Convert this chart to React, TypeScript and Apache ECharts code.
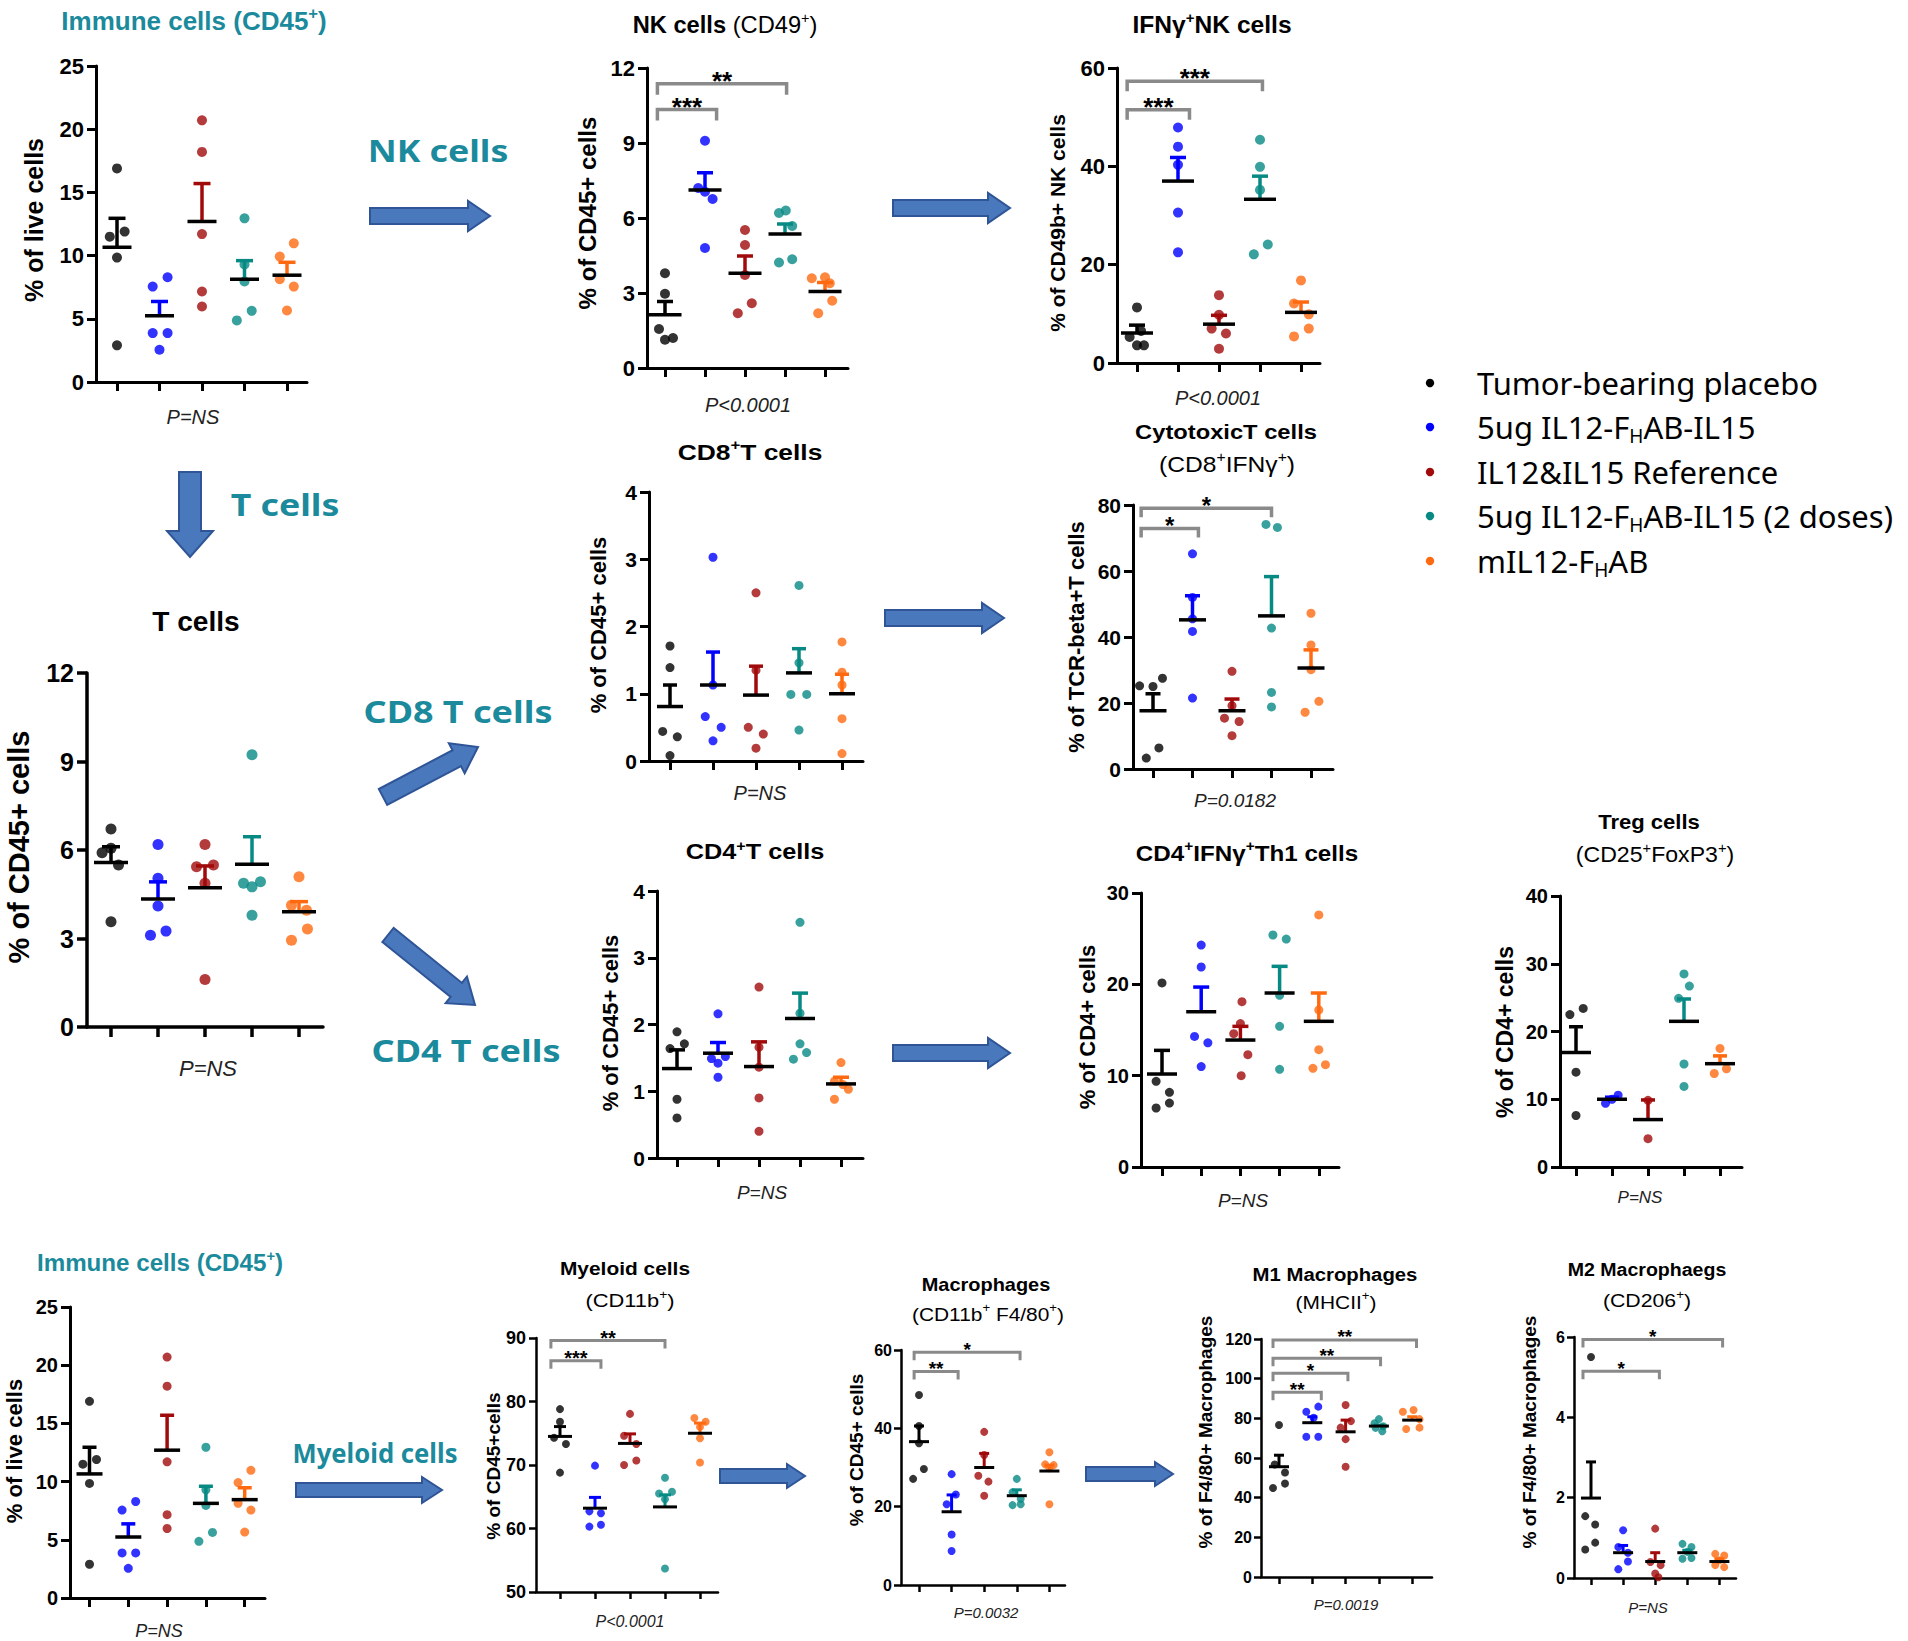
import React, { useEffect, useRef } from "react";
import * as echarts from "echarts";

const FONT = "'Liberation Sans', Arial, sans-serif";
const LEG_FONT = "'Noto Sans', 'Open Sans', sans-serif";
const TEAL_TEXT = "#1b8a9c";

const groupColors = ["#000000", "#0000ff", "#a10a0a", "#078a84", "#ff6a10"];

// ---------- data ----------
const immuneValues = [[16.9, 11.5, 11.9, 9.84, 2.9], [7.55, 8.29, 3.87, 3.87, 2.55], [20.7, 18.2, 11.7, 7.16, 5.97], [12.95, 7.95, 4.87, 5.63, 9.3], [10.97, 9.92, 8.13, 7.55, 5.66]];
const immuneJitter = [[0, -0.17, 0.18, 0, 0], [-0.16, 0.19, -0.16, 0.19, 0], [0, 0, 0, 0, 0], [0, 0, -0.18, 0.17, 0], [0.16, -0.17, -0.17, 0.16, 0]];
const immuneMean = [10.66, 5.24, 12.7, 8.13, 8.45];
const immuneSemTop = [12.95, 6.37, 15.7, 9.6, 9.47];

const nkValues = [[3.79, 2.97, 1.56, 1.13, 1.2], [9.09, 7.2, 7.05, 6.76, 4.8], [5.52, 4.92, 3.72, 2.19, 2.59], [6.2, 6.3, 5.68, 4.22, 4.35], [3.59, 3.63, 3.39, 2.69, 2.19]];
const nkJitter = [[0, 0, -0.15, 0, 0.2], [0, -0.17, 0, 0.19, 0], [0, 0, 0, -0.18, 0.17], [-0.15, 0.02, 0.18, -0.15, 0.18], [-0.33, 0, 0.12, 0.18, -0.17]];
const nkMean = [2.13, 7.12, 3.79, 5.36, 3.06];
const nkSemTop = [2.66, 7.81, 4.48, 5.76, 3.42];
const nkBrackets: [number, number, number, string][] = [[-0.19, 1.29, 10.34, "***"], [-0.19, 3.04, 11.37, "**"]];

const ifnNkValues = [[11.3, 6.5, 5.3, 3.6, 3.6], [47.9, 44.0, 40.3, 30.6, 22.5], [13.8, 9.8, 7.0, 6.0, 2.9], [45.4, 39.9, 35.2, 22.1, 24.1], [16.8, 12.1, 9.9, 7.0, 5.4]];
const ifnNkJitter = [[0, 0.1, -0.18, 0, 0.17], [0, 0, 0, 0, 0], [0, 0, -0.18, 0.17, 0], [0, 0, 0, -0.15, 0.19], [0, -0.17, 0.19, 0.19, -0.17]];
const ifnNkMean = [6.1, 37.0, 7.9, 33.3, 10.3];
const ifnNkSemTop = [7.7, 41.8, 9.7, 38.0, 12.4];
const ifnNkBrackets: [number, number, number, string][] = [[-0.24, 1.28, 51.5, "***"], [-0.24, 3.06, 57.3, "***"]];

const tValues = [[6.71, 6.06, 5.91, 5.49, 3.57], [6.19, 5.04, 4.1, 3.11, 3.25], [6.19, 5.43, 5.49, 4.87, 1.61], [9.23, 4.87, 4.92, 4.75, 3.79], [5.09, 4.13, 3.96, 3.32, 2.94]];
const tJitter = [[0, 0, -0.19, 0.16, 0], [0, 0, 0, -0.16, 0.17], [0, -0.18, 0.18, 0, 0], [0, -0.18, 0.18, 0, 0], [0, -0.16, 0.16, 0.18, -0.16]];
const tMean = [5.58, 4.34, 4.72, 5.52, 3.91];
const tSemTop = [6.11, 4.92, 5.46, 6.45, 4.25];

const cd8Values = [[1.71, 1.39, 0.44, 0.36, 0.08], [3.03, 1.13, 0.66, 0.5, 0.3], [2.5, 1.35, 0.5, 0.4, 0.19], [2.61, 1.46, 0.99, 0.99, 0.46], [1.77, 1.32, 1.13, 0.63, 0.11]];
const cd8Jitter = [[0, 0, -0.17, 0.17, 0], [0, 0, -0.18, 0.19, 0], [0, 0, -0.18, 0.17, 0], [0, 0, -0.19, 0.18, 0], [0, 0, 0, 0, 0]];
const cd8Mean = [0.81, 1.13, 0.98, 1.31, 1.0];
const cd8SemTop = [1.13, 1.62, 1.41, 1.67, 1.29];

const ctlValues = [[25.2, 25.0, 27.5, 3.3, 6.4], [65.2, 52, 45.5, 41.7, 21.5], [29.6, 19.2, 15.4, 14.4, 10.1], [74.1, 73.2, 42.7, 23.2, 18.8], [47.2, 37.6, 30.1, 17.2, 20.5]];
const ctlJitter = [[-0.34, 0, 0.24, -0.17, 0.15], [0, 0, 0, 0, 0], [0, 0, -0.19, 0.18, 0], [-0.14, 0.15, 0, 0, 0], [0, 0, 0, -0.15, 0.2]];
const ctlMean = [17.65, 45.2, 17.65, 46.4, 30.6];
const ctlSemTop = [22.8, 52.5, 21.2, 58.3, 36.1];
const ctlBrackets: [number, number, number, string][] = [[-0.3, 1.15, 72.9, "*"], [-0.3, 3.0, 79.0, "*"]];

const cd4Values = [[1.89, 1.64, 1.71, 0.88, 0.6], [2.16, 1.49, 1.52, 1.42, 1.21], [2.56, 1.66, 1.36, 0.9, 0.4], [3.53, 2.17, 1.71, 1.48, 1.58], [1.43, 1.15, 1.1, 1.03, 0.88]];
const cd4Jitter = [[0, -0.17, 0.18, 0, 0], [0, -0.16, 0.18, 0, 0], [0, 0, 0, 0, 0], [0, 0, 0, -0.16, 0.16], [0, -0.16, 0.05, 0.18, -0.16]];
const cd4Mean = [1.34, 1.57, 1.37, 2.09, 1.11];
const cd4SemTop = [1.62, 1.73, 1.74, 2.47, 1.21];

const th1Values = [[20.15, 9.38, 8.18, 7.0, 6.46], [24.3, 21.9, 14.3, 13.6, 11.0], [18.1, 15.7, 14.6, 12.3, 10.0], [25.4, 24.96, 18.8, 15.4, 10.7], [27.6, 17.2, 12.85, 10.8, 11.2]];
const th1Jitter = [[0, -0.15, 0.19, 0.19, -0.15], [0, 0, -0.17, 0.17, 0], [0.04, 0, -0.17, 0.19, 0.02], [-0.17, 0.17, 0, 0, 0], [0, 0, 0, -0.15, 0.17]];
const th1Mean = [10.18, 17.0, 13.9, 19.05, 15.95];
const th1SemTop = [12.77, 19.7, 15.4, 21.97, 19.05];

const tregValues = [[23.4, 22.5, 14.0, 7.6], [9.4, 10.0, 10.6], [9.84, 4.18], [28.5, 26.7, 24.9, 15.2, 11.9], [17.5, 13.8, 14.5]];
const tregJitter = [[0.2, -0.17, 0, 0], [-0.18, 0, 0.17], [0, 0], [0, 0.15, -0.15, 0, 0], [0, -0.16, 0.18]];
const tregMean = [16.9, 10.0, 7.0, 21.5, 15.25];
const tregSemTop = [20.7, 10.3, 9.9, 24.8, 16.4];

const myeValues = [[78.8, 76.8, 74.3, 73.3, 68.8], [69.9, 62.7, 62.4, 60.3, 60.6], [78.05, 74.6, 73.3, 70.0, 70.7], [68.0, 65.5, 65.8, 64.6, 53.7], [77.4, 76.8, 76.0, 74.2, 70.4]];
const myeJitter = [[0, 0, -0.17, 0.17, 0], [0, -0.16, 0.17, -0.16, 0.17], [0, -0.17, 0.18, -0.17, 0.18], [0, -0.17, 0.2, 0, 0], [-0.16, 0.16, 0, 0, 0]];
const myeMean = [74.5, 63.2, 73.4, 63.4, 75.0];
const myeSemTop = [76.05, 64.9, 74.9, 65.3, 76.6];
const myeBrackets: [number, number, number, string][] = [[-0.26, 1.17, 86.4, "***"], [-0.26, 3.0, 89.6, "**"]];

const macValues = [[48.5, 40.6, 36.2, 29.6, 27.1], [28.3, 23.1, 20.6, 12.9, 8.7], [39.1, 33.2, 27.9, 26.4, 22.8], [27.1, 23.7, 22.0, 20.4, 20.6], [33.9, 30.8, 30.6, 29.8, 20.6]];
const macJitter = [[0, 0, 0, 0.15, -0.18], [0, 0.13, -0.15, 0, 0], [0, 0, -0.18, 0.13, 0], [0, -0.13, 0.12, -0.13, 0.12], [0, -0.13, 0.13, 0, 0]];
const macMean = [36.6, 18.7, 30.0, 22.8, 29.1];
const macSemTop = [40.6, 23.0, 33.6, 24.3, 30.6];
const macBrackets: [number, number, number, string][] = [[-0.15, 1.2, 54.5, "**"], [-0.15, 3.1, 59.4, "*"]];

const m1Values = [[76.6, 56.7, 52.7, 47.1, 44.9], [85.9, 83.3, 80.3, 70.7, 70.7], [86.7, 78.6, 75.3, 69.5, 55.6], [79.6, 77.5, 76.0, 75.2, 73.5], [83.3, 84.2, 79.6, 74.6, 75.3]];
const m1Jitter = [[0, -0.13, 0.18, 0.18, -0.18], [0.18, -0.18, 0.04, -0.18, 0.18], [0, 0.16, -0.15, 0, 0], [0, -0.13, 0.13, -0.1, 0.1], [-0.28, 0.04, 0.22, -0.18, 0.22]];
const m1Mean = [55.6, 77.8, 73.2, 76.1, 79.1];
const m1SemTop = [61.4, 80.8, 79.1, 76.6, 80.8];
const m1Brackets: [number, number, number, string][] = [[-0.18, 1.27, 93.1, "**"], [-0.18, 2.07, 102.7, "*"], [-0.18, 3.05, 110.3, "**"], [-0.18, 4.13, 119.5, "**"]];

const m2Values = [[5.5, 1.54, 1.33, 0.88, 0.71], [1.19, 0.77, 0.63, 0.41, 0.22], [1.23, 0.4, 0.32, 0.11, 0.02], [0.85, 0.77, 0.65, 0.48, 0.5], [0.6, 0.56, 0.44, 0.32, 0.27]];
const m2Jitter = [[0, -0.18, 0.13, 0.13, -0.18], [0, -0.15, 0.15, 0.15, -0.15], [0, -0.15, 0.17, 0, 0.1], [-0.15, 0.13, 0, -0.15, 0.13], [-0.13, 0.15, 0, -0.13, 0.15]];
const m2Mean = [1.99, 0.63, 0.41, 0.63, 0.41];
const m2SemTop = [2.89, 0.81, 0.63, 0.69, 0.48];
const m2Brackets: [number, number, number, string][] = [[-0.25, 2.13, 5.15, "*"], [-0.25, 4.1, 5.94, "*"]];

const legendLabels: [string, string][][] = [
  [["Tumor-bearing placebo", "n"]],
  [["5ug IL12-F", "n"], ["H", "sub"], ["AB-IL15", "n"]],
  [["IL12&IL15 Reference", "n"]],
  [["5ug IL12-F", "n"], ["H", "sub"], ["AB-IL15 (2 doses)", "n"]],
  [["mIL12-F", "n"], ["H", "sub"], ["AB", "n"]],
];

// ---------- layout (positions / sizes / styles) ----------
type Part = [string, string];
type TitleSpec = { parts: Part[]; x: number; y: number; size: number; color?: string; sx?: number };
type Layout = {
  ax: number; top: number; bot: number; t0: number; step: number; end: number;
  yMin: number; yMax: number; yStep: number; lab: number; lm: number; dot: number; lw: number;
  mh: number; ch: number; bw: number; tl: number; star: number; drop: number;
  yName: string; nameX: number; nameY: number; nameSize: number;
  p: string; pX: number; pY: number; pSize: number; titles: TitleSpec[];
};
type Panel = { values: number[][]; jitter: number[][]; mean: number[]; semTop: number[]; brackets: [number, number, number, string][]; L: Layout };

const base = { lm: 12, lw: 3, bw: 3.5, tl: 9, star: 26, drop: 10 };

const panels: Panel[] = [
  { values: immuneValues, jitter: immuneJitter, mean: immuneMean, semTop: immuneSemTop, brackets: [],
    L: { ...base, ax: 96, top: 66, bot: 382, t0: 117, step: 42.5, end: 307, yMin: 0, yMax: 25, yStep: 5, lab: 22, dot: 10, mh: 14.5, ch: 8.5,
      yName: "% of live cells", nameX: 34, nameY: 220, nameSize: 25, p: "P=NS", pX: 193, pY: 417, pSize: 20,
      titles: [{ parts: [["Immune cells (CD45", "b"], ["+", "bs"], [")", "b"]], x: 194, y: 21, size: 25, color: TEAL_TEXT, sx: 1.04 }] } },
  { values: nkValues, jitter: nkJitter, mean: nkMean, semTop: nkSemTop, brackets: nkBrackets,
    L: { ...base, ax: 647, top: 68, bot: 368, t0: 665, step: 40, end: 848, yMin: 0, yMax: 12, yStep: 3, lab: 22, dot: 10, mh: 16.5, ch: 8, drop: 11,
      yName: "% of CD45+ cells", nameX: 587, nameY: 213, nameSize: 24, p: "P<0.0001", pX: 748, pY: 405, pSize: 20,
      titles: [{ parts: [["NK cells ", "b"], ["(CD49", "r"], ["+", "rs"], [")", "r"]], x: 725, y: 25, size: 23, sx: 1.03 }] } },
  { values: ifnNkValues, jitter: ifnNkJitter, mean: ifnNkMean, semTop: ifnNkSemTop, brackets: ifnNkBrackets,
    L: { ...base, ax: 1117, top: 68, bot: 363, t0: 1137, step: 41, end: 1320, yMin: 0, yMax: 60, yStep: 20, lab: 22, dot: 10, mh: 16, ch: 8,
      yName: "% of CD49b+ NK cells", nameX: 1057, nameY: 223, nameSize: 21, p: "P<0.0001", pX: 1218, pY: 398, pSize: 20,
      titles: [{ parts: [["IFNγ", "b"], ["+", "bs"], ["NK cells", "b"]], x: 1212, y: 25, size: 23, sx: 1.07 }] } },
  { values: tValues, jitter: tJitter, mean: tMean, semTop: tSemTop, brackets: [],
    L: { ...base, ax: 87, top: 673, bot: 1027, t0: 111, step: 47, end: 323, yMin: 0, yMax: 12, yStep: 3, lab: 25, lm: 13, dot: 11, lw: 3.5, mh: 17, ch: 9, tl: 10,
      yName: "% of CD45+ cells", nameX: 19, nameY: 847, nameSize: 29, p: "P=NS", pX: 208, pY: 1068, pSize: 22,
      titles: [{ parts: [["T cells", "b"]], x: 196, y: 622, size: 27, sx: 1.04 }] } },
  { values: cd8Values, jitter: cd8Jitter, mean: cd8Mean, semTop: cd8SemTop, brackets: [],
    L: { ...base, ax: 649, top: 492, bot: 761, t0: 670, step: 43, end: 863, yMin: 0, yMax: 4, yStep: 1, lab: 21, dot: 9, mh: 13, ch: 7,
      yName: "% of CD45+ cells", nameX: 598, nameY: 625, nameSize: 22, p: "P=NS", pX: 760, pY: 793, pSize: 20,
      titles: [{ parts: [["CD8", "b"], ["+", "bs"], ["T cells", "b"]], x: 750, y: 452, size: 22, sx: 1.2 }] } },
  { values: ctlValues, jitter: ctlJitter, mean: ctlMean, semTop: ctlSemTop, brackets: ctlBrackets,
    L: { ...base, ax: 1133, top: 505, bot: 769, t0: 1153, step: 39.5, end: 1333, yMin: 0, yMax: 80, yStep: 20, lab: 21, dot: 9, mh: 13.5, ch: 7.5, star: 24, drop: 9,
      yName: "% of TCR-beta+T cells", nameX: 1076, nameY: 637, nameSize: 22, p: "P=0.0182", pX: 1235, pY: 800, pSize: 19,
      titles: [
        { parts: [["CytotoxicT cells", "b"]], x: 1226, y: 432, size: 21, sx: 1.13 },
        { parts: [["(CD8", "r"], ["+", "rs"], ["IFNγ", "r"], ["+", "rs"], [")", "r"]], x: 1227, y: 464, size: 22, sx: 1.12 },
      ] } },
  { values: cd4Values, jitter: cd4Jitter, mean: cd4Mean, semTop: cd4SemTop, brackets: [],
    L: { ...base, ax: 657, top: 891, bot: 1158, t0: 677, step: 41, end: 863, yMin: 0, yMax: 4, yStep: 1, lab: 21, dot: 9, mh: 15, ch: 8,
      yName: "% of CD45+ cells", nameX: 610, nameY: 1023, nameSize: 22, p: "P=NS", pX: 762, pY: 1192, pSize: 19,
      titles: [{ parts: [["CD4", "b"], ["+", "bs"], ["T cells", "b"]], x: 755, y: 852, size: 22, sx: 1.15 }] } },
  { values: th1Values, jitter: th1Jitter, mean: th1Mean, semTop: th1SemTop, brackets: [],
    L: { ...base, ax: 1141, top: 893, bot: 1167, t0: 1162, step: 39.2, end: 1339, yMin: 0, yMax: 30, yStep: 10, lab: 20, dot: 9, mh: 15, ch: 8,
      yName: "% of CD4+ cells", nameX: 1087, nameY: 1027, nameSize: 22, p: "P=NS", pX: 1243, pY: 1200, pSize: 19,
      titles: [{ parts: [["CD4", "b"], ["+", "bs"], ["IFNγ", "b"], ["+", "bs"], ["Th1 cells", "b"]], x: 1247, y: 853, size: 22, sx: 1.1 }] } },
  { values: tregValues, jitter: tregJitter, mean: tregMean, semTop: tregSemTop, brackets: [],
    L: { ...base, ax: 1560, top: 896, bot: 1167, t0: 1576, step: 36, end: 1742, yMin: 0, yMax: 40, yStep: 10, lab: 20, dot: 9, mh: 15, ch: 7,
      yName: "% of CD4+ cells", nameX: 1505, nameY: 1032, nameSize: 23, p: "P=NS", pX: 1640, pY: 1197, pSize: 17,
      titles: [
        { parts: [["Treg cells", "b"]], x: 1649, y: 822, size: 21, sx: 1.05 },
        { parts: [["(CD25", "r"], ["+", "rs"], ["FoxP3", "r"], ["+", "rs"], [")", "r"]], x: 1655, y: 855, size: 22, sx: 1.05 },
      ] } },
  { values: immuneValues, jitter: immuneJitter, mean: immuneMean, semTop: immuneSemTop, brackets: [],
    L: { ...base, ax: 70, top: 1307, bot: 1598, t0: 89.5, step: 38.8, end: 265, yMin: 0, yMax: 25, yStep: 5, lab: 20, dot: 9, mh: 13, ch: 7,
      yName: "% of live cells", nameX: 14, nameY: 1451, nameSize: 22, p: "P=NS", pX: 159, pY: 1631, pSize: 18,
      titles: [{ parts: [["Immune cells (CD45", "b"], ["+", "bs"], [")", "b"]], x: 160, y: 1263, size: 23, color: TEAL_TEXT, sx: 1.05 }] } },
  { values: myeValues, jitter: myeJitter, mean: myeMean, semTop: myeSemTop, brackets: myeBrackets,
    L: { ...base, ax: 536, top: 1338, bot: 1592, t0: 560, step: 35, end: 718, yMin: 50, yMax: 90, yStep: 10, lab: 18, lm: 10, dot: 8, lw: 2.5, bw: 3, mh: 12, ch: 6, tl: 7, star: 20, drop: 8,
      yName: "% of CD45+cells", nameX: 493, nameY: 1466, nameSize: 19, p: "P<0.0001", pX: 630, pY: 1621, pSize: 16,
      titles: [
        { parts: [["Myeloid cells", "b"]], x: 625, y: 1268, size: 19, sx: 1.1 },
        { parts: [["(CD11b", "r"], ["+", "rs"], [")", "r"]], x: 630, y: 1300, size: 19, sx: 1.15 },
      ] } },
  { values: macValues, jitter: macJitter, mean: macMean, semTop: macSemTop, brackets: macBrackets,
    L: { ...base, ax: 901, top: 1350, bot: 1585, t0: 919, step: 32.6, end: 1065, yMin: 0, yMax: 60, yStep: 20, lab: 16, lm: 9, dot: 8, lw: 2.5, bw: 3, mh: 10, ch: 5, tl: 7, star: 19, drop: 8,
      yName: "% of CD45+ cells", nameX: 856, nameY: 1450, nameSize: 19, p: "P=0.0032", pX: 986, pY: 1612, pSize: 15,
      titles: [
        { parts: [["Macrophages", "b"]], x: 986, y: 1284, size: 19, sx: 1.05 },
        { parts: [["(CD11b", "r"], ["+", "rs"], [" F4/80", "r"], ["+", "rs"], [")", "r"]], x: 988, y: 1314, size: 19, sx: 1.1 },
      ] } },
  { values: m1Values, jitter: m1Jitter, mean: m1Mean, semTop: m1SemTop, brackets: m1Brackets,
    L: { ...base, ax: 1261, top: 1339, bot: 1577, t0: 1279, step: 33.3, end: 1432, yMin: 0, yMax: 120, yStep: 20, lab: 16, lm: 9, dot: 8, lw: 2.5, bw: 3, mh: 10, ch: 5, tl: 7, star: 19, drop: 8,
      yName: "% of F4/80+ Macrophages", nameX: 1205, nameY: 1432, nameSize: 19, p: "P=0.0019", pX: 1346, pY: 1604, pSize: 15,
      titles: [
        { parts: [["M1 Macrophages", "b"]], x: 1335, y: 1274, size: 19, sx: 1.07 },
        { parts: [["(MHCII", "r"], ["+", "rs"], [")", "r"]], x: 1336, y: 1302, size: 19, sx: 1.1 },
      ] } },
  { values: m2Values, jitter: m2Jitter, mean: m2Mean, semTop: m2SemTop, brackets: m2Brackets,
    L: { ...base, ax: 1574, top: 1337, bot: 1578, t0: 1591, step: 32.1, end: 1736, yMin: 0, yMax: 6, yStep: 2, lab: 16, lm: 9, dot: 8, lw: 2.5, bw: 3, mh: 10, ch: 5, tl: 7, star: 19, drop: 8,
      yName: "% of F4/80+ Macrophages", nameX: 1529, nameY: 1432, nameSize: 19, p: "P=NS", pX: 1648, pY: 1607, pSize: 15,
      titles: [
        { parts: [["M2 Macrophaegs", "b"]], x: 1647, y: 1270, size: 19, sx: 1.03 },
        { parts: [["(CD206", "r"], ["+", "rs"], [")", "r"]], x: 1647, y: 1300, size: 19, sx: 1.12 },
      ] } },
];

// arrows: [x1, y1, x2, y2, shaftHalf, headHalf, headLen]
const arrows: number[][] = [
  [370, 216, 490, 216, 8, 15, 22],
  [893, 208, 1010, 208, 8, 15, 22],
  [190, 472, 190, 557, 11, 23, 26],
  [885, 618, 1004, 618, 8, 15, 22],
  [383, 797, 478, 747, 9, 17, 24],
  [388, 935, 475, 1005, 9, 17, 24],
  [893, 1053, 1010, 1053, 8, 15, 22],
  [296, 1490, 442, 1490, 7, 13, 20],
  [720, 1476, 805, 1476, 7, 12, 18],
  [1086, 1474, 1173, 1474, 7, 12, 18],
];
const arrowLabels: TitleSpec[] = [
  { parts: [["NK cells", "t"]], x: 438, y: 150, size: 31, sx: 1.15 },
  { parts: [["T cells", "t"]], x: 285, y: 504, size: 31, sx: 1.15 },
  { parts: [["CD8 T cells", "t"]], x: 458, y: 711, size: 31, sx: 1.16 },
  { parts: [["CD4 T cells", "t"]], x: 466, y: 1050, size: 31, sx: 1.16 },
  { parts: [["Myeloid cells", "t"]], x: 375, y: 1453, size: 27, sx: 0.95 },
];

// ---------- helpers ----------
function richFor(size: number, color: string) {
  const sup = Math.round(size * 0.62);
  const up = Math.round(size * 0.6);
  return {
    b: { font: `bold ${size}px ${FONT}`, fill: color, color },
    r: { font: `normal ${size}px ${FONT}`, fill: color, color },
    bs: { font: `bold ${sup}px ${FONT}`, fill: color, color, padding: [0, 0, up, 0] },
    rs: { font: `normal ${sup}px ${FONT}`, fill: color, color, padding: [0, 0, up, 0] },
    t: { font: `bold ${size}px ${LEG_FONT}`, fill: TEAL_TEXT, color: TEAL_TEXT },
    n: { font: `normal ${size}px ${LEG_FONT}`, fill: "#000", color: "#000" },
    sub: { font: `normal ${Math.round(size * 0.6)}px ${LEG_FONT}`, fill: "#000", color: "#000", padding: [Math.round(size * 0.55), 0, 0, 0] },
  };
}

function richTextEl(t: TitleSpec, align = "center") {
  return {
    type: "text",
    x: t.x,
    y: t.y,
    scaleX: t.sx || 1,
    silent: true,
    style: {
      text: t.parts.map(([s, k]) => `{${k}|${s}}`).join(""),
      rich: richFor(t.size, t.color || "#000"),
      align, verticalAlign: "middle", textAlign: align, textVerticalAlign: "middle",
    },
  };
}

function arrowPoints(a: number[]) {
  const [x1, y1, x2, y2, sh, hh, hl] = a;
  const dx = x2 - x1, dy = y2 - y1, len = Math.hypot(dx, dy);
  const ux = dx / len, uy = dy / len, nx = -uy, ny = ux;
  const bx = x2 - ux * hl, by = y2 - uy * hl;
  return [
    [x1 + nx * sh, y1 + ny * sh], [bx + nx * sh, by + ny * sh], [bx + nx * hh, by + ny * hh],
    [x2, y2], [bx - nx * hh, by - ny * hh], [bx - nx * sh, by - ny * sh], [x1 - nx * sh, y1 - ny * sh],
  ];
}

function buildOption() {
  const grid: any[] = [], xAxis: any[] = [], yAxis: any[] = [], series: any[] = [], graphic: any[] = [];
  panels.forEach((p, i) => {
    const L = p.L;
    grid.push({ left: L.ax, top: L.top, width: L.end - L.ax, height: L.bot - L.top, containLabel: false });
    xAxis.push({
      gridIndex: i, type: "value", min: -(L.t0 - L.ax) / L.step, max: (L.end - L.t0) / L.step,
      axisLine: { show: true, onZero: false, lineStyle: { color: "#000", width: L.lw } },
      axisTick: { show: true, customValues: [0, 1, 2, 3, 4], length: L.tl, inside: false, lineStyle: { color: "#000", width: L.lw } },
      axisLabel: { show: false }, splitLine: { show: false },
    });
    yAxis.push({
      gridIndex: i, type: "value", min: L.yMin, max: L.yMax, interval: L.yStep,
      axisLine: { show: true, onZero: false, lineStyle: { color: "#000", width: L.lw } },
      axisTick: { show: true, length: L.tl, inside: false, lineStyle: { color: "#000", width: L.lw } },
      axisLabel: { show: true, color: "#000", fontSize: L.lab, fontWeight: "bold", fontFamily: FONT, margin: L.lm },
      splitLine: { show: false },
    });
    series.push({
      type: "scatter", xAxisIndex: i, yAxisIndex: i, symbol: "circle", symbolSize: L.dot, silent: true, z: 2,
      data: p.values.flatMap((arr, g) => arr.map((v, k) => ({ value: [g + p.jitter[g][k], v], itemStyle: { color: groupColors[g] } }))),
    });
    series.push({
      type: "custom", xAxisIndex: i, yAxisIndex: i, silent: true, z: 3, clip: false,
      encode: { x: 0, y: [1, 2] },
      data: p.mean.map((m, g) => [g, m, p.semTop[g]]),
      renderItem: (params: any, api: any) => {
        const g = api.value(0);
        const pm = api.coord([g, api.value(1)]);
        const pt = api.coord([g, api.value(2)]);
        const col = groupColors[g];
        return {
          type: "group",
          children: [
            { type: "line", shape: { x1: pm[0], y1: pm[1], x2: pt[0], y2: pt[1] }, style: { stroke: col, lineWidth: L.bw } },
            { type: "line", shape: { x1: pt[0] - L.ch, y1: pt[1], x2: pt[0] + L.ch, y2: pt[1] }, style: { stroke: col, lineWidth: L.bw } },
            { type: "line", shape: { x1: pm[0] - L.mh, y1: pm[1], x2: pm[0] + L.mh, y2: pm[1] }, style: { stroke: "#000", lineWidth: L.bw } },
          ],
        };
      },
    });
    if (p.brackets.length) {
      series.push({
        type: "custom", xAxisIndex: i, yAxisIndex: i, silent: true, z: 4, clip: false,
        encode: { x: [0, 1], y: 2 },
        data: p.brackets.map((b) => [b[0], b[1], b[2]]),
        renderItem: (params: any, api: any) => {
          const p1 = api.coord([api.value(0), api.value(2)]);
          const p2 = api.coord([api.value(1), api.value(2)]);
          const label = p.brackets[params.dataIndex][3];
          return {
            type: "group",
            children: [
              { type: "polyline", shape: { points: [[p1[0], p1[1] + L.drop], [p1[0], p1[1]], [p2[0], p2[1]], [p2[0], p2[1] + L.drop]] },
                style: { stroke: "#8a8a8a", lineWidth: L.bw, fill: "none" } },
              { type: "text", x: (p1[0] + p2[0]) / 2, y: p1[1] - 3,
                style: { text: label, font: `bold ${L.star}px ${FONT}`, fill: "#000", align: "center", verticalAlign: "middle", textAlign: "center", textVerticalAlign: "middle" } },
            ],
          };
        },
      });
    }
    // panel texts
    L.titles.forEach((t) => graphic.push(richTextEl(t)));
    graphic.push({
      type: "text", x: L.nameX, y: L.nameY, rotation: Math.PI / 2, silent: true,
      style: { text: L.yName, font: `bold ${L.nameSize}px ${FONT}`, fill: "#000", align: "center", verticalAlign: "middle", textAlign: "center", textVerticalAlign: "middle" },
    });
    graphic.push({
      type: "text", x: L.pX, y: L.pY, silent: true,
      style: { text: L.p, font: `italic ${L.pSize}px ${FONT}`, fill: "#222", align: "center", verticalAlign: "middle", textAlign: "center", textVerticalAlign: "middle" },
    });
  });

  arrows.forEach((a) => {
    graphic.push({
      type: "polygon", silent: true,
      shape: { points: arrowPoints(a) },
      style: { fill: "#4a78bd", stroke: "#2f5597", lineWidth: 2 },
    });
  });
  arrowLabels.forEach((t) => graphic.push(richTextEl(t)));

  // legend
  const legendY = [383, 427, 472, 516, 561];
  legendLabels.forEach((parts, g) => {
    graphic.push({ type: "circle", silent: true, shape: { cx: 1430, cy: legendY[g], r: 4.2 }, style: { fill: groupColors[g] } });
    graphic.push(richTextEl({ parts, x: 1477, y: legendY[g], size: 31 }, "left"));
  });

  return { animation: false, backgroundColor: "#ffffff", grid, xAxis, yAxis, series, graphic };
}

export default function App() {
  const ref = useRef<HTMLDivElement>(null);
  useEffect(() => {
    const chart = echarts.init(ref.current as HTMLDivElement, null, { renderer: "svg" });
    chart.setOption(buildOption() as any);
    return () => chart.dispose();
  }, []);
  return <div ref={ref} style={{ position: "absolute", left: 0, top: 0, width: 1908, height: 1641, background: "#fff" }} />;
}
